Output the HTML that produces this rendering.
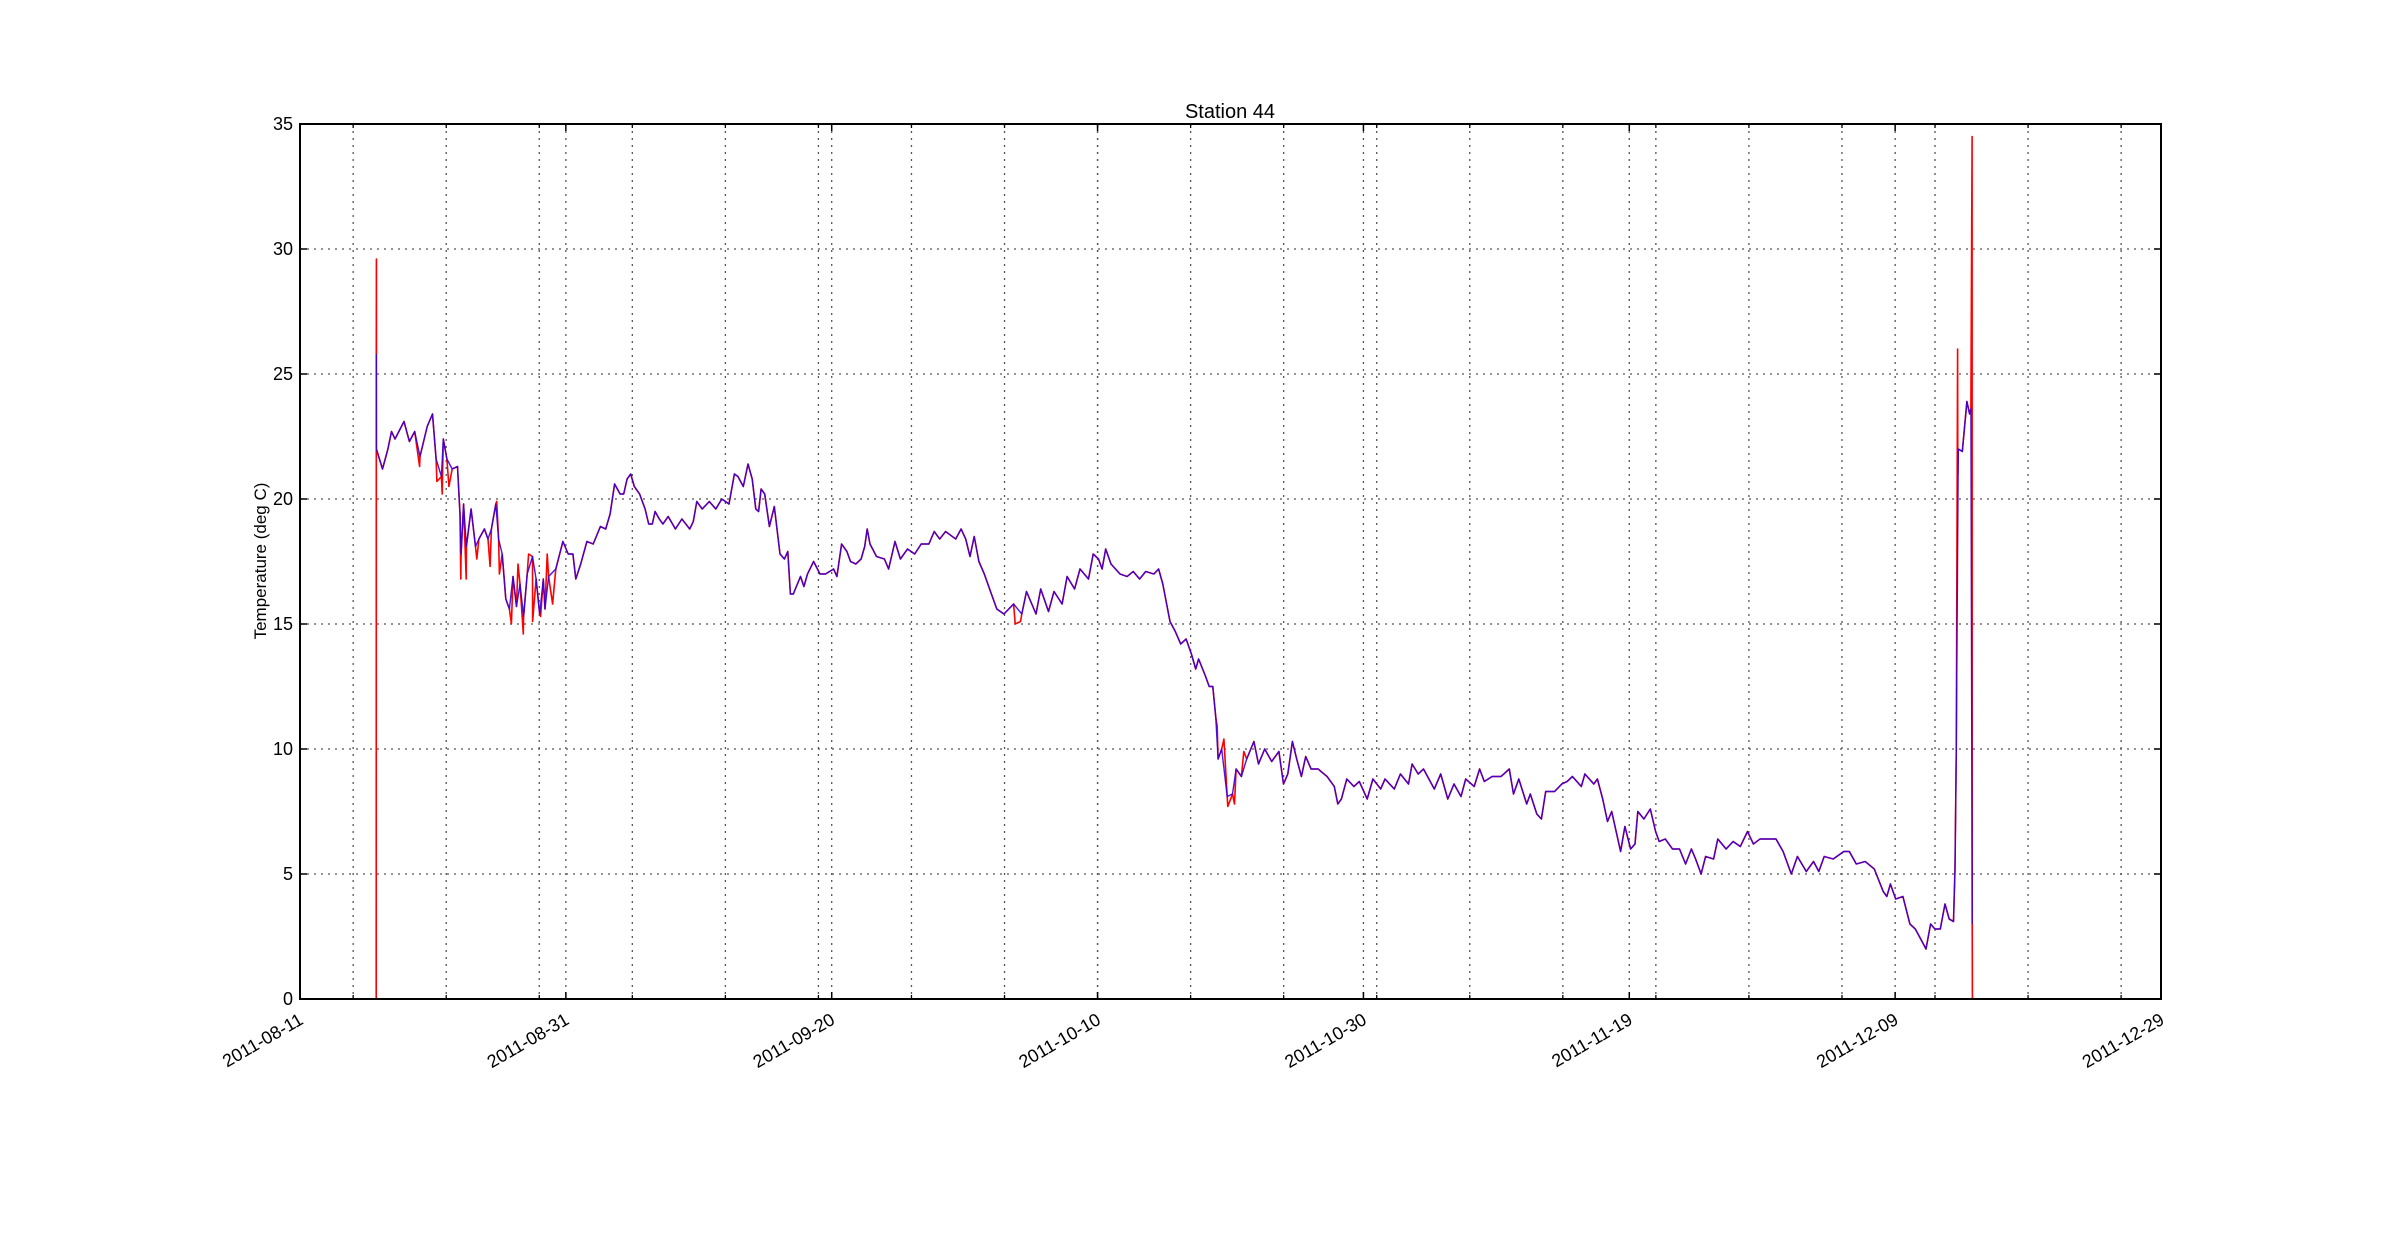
<!DOCTYPE html>
<html><head><meta charset="utf-8"><style>
html,body{margin:0;padding:0;background:#fff;}
svg{display:block;font-family:"Liberation Sans","DejaVu Sans",sans-serif;}
</style></head><body>
<svg id="chart" width="2400" height="1248" viewBox="0 0 2400 1248">
<rect x="0" y="0" width="2400" height="1248" fill="#fff"/>
<g id="grid"></g>
<g id="series"></g>
<rect x="300" y="124" width="1861" height="875" fill="none" stroke="#000" stroke-width="2"/>
<g id="ticks"></g>
<text x="1230" y="118" text-anchor="middle" font-size="20">Station 44</text>
<text transform="translate(266,561) rotate(-90)" text-anchor="middle" font-size="17">Temperature (deg C)</text>
</svg>
<script>
const xTickLabels = ["2011-08-11","2011-08-31","2011-09-20","2011-10-10","2011-10-30","2011-11-19","2011-12-09","2011-12-29"];
const xTickDays = [0,20,40,60,80,100,120,140];
const minorDays = [4,11,18,25,32,39,46,53,60,67,74,81,88,95,102,109,116,123,130,137];
const yTicks = [0,5,10,15,20,25,30,35];
const blueDays = [5.74,5.75,6.21,6.61,6.88,7.15,7.82,8.23,8.63,9.03,9.57,9.97,10.24,10.64,10.78,11.05,11.45,11.85,12.04,12.12,12.31,12.52,12.87,13.2,13.46,13.87,14.14,14.4,14.73,14.94,15.21,15.48,15.75,16.02,16.29,16.55,16.82,17.09,17.49,17.76,18.03,18.3,18.43,18.7,19.24,19.78,20.18,20.53,20.75,21.12,21.58,22.06,22.6,23.0,23.33,23.67,24.08,24.35,24.61,24.88,25.15,25.55,25.96,26.23,26.5,26.71,27.03,27.3,27.7,28.24,28.73,29.32,29.59,29.85,30.26,30.79,31.28,31.73,32.27,32.68,32.94,33.35,33.7,34.02,34.29,34.5,34.69,34.96,35.31,35.68,36.11,36.44,36.7,36.89,37.11,37.65,37.91,38.18,38.64,39.12,39.53,40.14,40.39,40.74,41.14,41.41,41.81,42.21,42.48,42.67,42.88,43.37,43.96,44.28,44.76,45.17,45.7,46.24,46.73,47.31,47.71,48.12,48.57,49.33,49.73,50.08,50.4,50.72,51.07,51.48,52.01,52.42,52.95,53.68,54.3,54.65,55.37,55.72,56.31,56.72,57.33,57.71,58.27,58.68,59.32,59.67,60.07,60.34,60.61,61.01,61.69,62.22,62.68,63.16,63.62,64.24,64.59,64.91,65.45,65.85,66.25,66.66,67.06,67.38,67.6,68.13,68.4,68.67,68.89,69.07,69.34,69.75,70.15,70.42,70.82,71.22,71.76,72.11,72.57,73.1,73.64,73.99,74.31,74.66,74.98,75.33,75.66,76.06,76.6,77.27,77.81,78.07,78.34,78.75,79.28,79.69,80.28,80.71,81.3,81.62,82.32,82.78,83.39,83.66,84.12,84.52,85.33,85.81,86.35,86.81,87.34,87.69,88.33,88.74,89.09,89.68,90.35,90.97,91.29,91.69,92.28,92.55,93.04,93.39,93.71,94.38,94.92,95.32,95.72,96.39,96.66,97.33,97.6,98.0,98.36,98.68,99.35,99.67,100.1,100.43,100.64,101.1,101.58,101.98,102.25,102.71,103.25,103.78,104.24,104.67,104.99,105.4,105.74,106.34,106.66,107.28,107.81,108.35,108.89,109.34,109.83,111.04,111.57,112.19,112.65,113.32,113.86,114.26,114.66,115.34,116.14,116.55,117.08,117.75,118.43,119.1,119.37,119.64,120.04,120.58,121.11,121.52,121.92,122.32,122.67,122.99,123.4,123.75,124.07,124.39,124.5,124.6,124.75,125.05,125.4,125.6,125.7,125.8];
const blueVals = [25.8,22.0,21.2,22.0,22.7,22.4,23.1,22.3,22.7,21.7,22.9,23.4,21.6,20.9,22.4,21.6,21.2,21.3,19.4,17.8,19.8,18.1,19.6,18.1,18.4,18.8,18.4,18.8,19.8,18.4,17.8,16.0,15.6,16.9,15.7,16.6,15.3,17.0,17.7,16.8,15.4,16.8,15.6,16.9,17.2,18.3,17.8,17.8,16.8,17.4,18.3,18.2,18.9,18.8,19.4,20.6,20.2,20.2,20.8,21.0,20.5,20.2,19.6,19.0,19.0,19.5,19.2,19.0,19.3,18.8,19.2,18.8,19.1,19.9,19.6,19.9,19.6,20.0,19.8,21.0,20.9,20.5,21.4,20.8,19.6,19.5,20.4,20.2,18.9,19.7,17.8,17.6,17.9,16.2,16.2,16.9,16.5,17.0,17.5,17.0,17.0,17.2,16.9,18.2,17.9,17.5,17.4,17.6,18.1,18.8,18.2,17.7,17.6,17.2,18.3,17.6,18.0,17.8,18.2,18.2,18.7,18.4,18.7,18.4,18.8,18.4,17.7,18.5,17.5,17.0,16.2,15.6,15.4,15.8,15.4,16.3,15.4,16.4,15.5,16.3,15.8,16.9,16.4,17.2,16.8,17.8,17.6,17.2,18.0,17.4,17.0,16.9,17.1,16.8,17.1,17.0,17.2,16.6,15.1,14.7,14.2,14.4,13.8,13.2,13.6,12.9,12.5,12.5,11.3,9.6,10.0,8.1,8.2,9.2,8.9,9.6,10.3,9.4,10.0,9.5,9.9,8.6,9.0,10.3,9.6,8.9,9.7,9.2,9.2,8.9,8.5,7.8,8.0,8.8,8.5,8.7,8.0,8.8,8.4,8.8,8.4,9.0,8.6,9.4,9.0,9.2,8.4,9.0,8.0,8.6,8.1,8.8,8.5,9.2,8.7,8.9,8.9,9.2,8.2,8.8,7.8,8.2,7.4,7.2,8.3,8.3,8.6,8.7,8.9,8.5,9.0,8.6,8.8,8.0,7.1,7.5,5.9,6.9,6.0,6.2,7.5,7.2,7.6,6.7,6.3,6.4,6.0,6.0,5.4,6.0,5.6,5.0,5.7,5.6,6.4,6.0,6.3,6.1,6.7,6.2,6.4,6.4,5.9,5.0,5.7,5.1,5.5,5.1,5.7,5.6,5.9,5.9,5.4,5.5,5.2,4.3,4.1,4.6,4.0,4.1,3.0,2.8,2.4,2.0,3.0,2.8,2.8,3.8,3.2,3.1,5.2,10.0,22.0,21.9,23.9,23.4,23.6,3.0];
const redExtraDays = [5.73,5.745,9.0,10.3,10.7,11.2,12.1,12.5,13.3,14.3,14.8,15.0,15.9,16.4,16.8,17.2,17.5,18.1,18.6,19.0,53.8,54.2,69.0,69.5,69.8,70.3,71.0,76.8,124.7,124.71,125.79,125.81];
const redExtraVals = [0,29.6,21.3,20.7,20.2,20.5,16.8,16.8,17.6,17.3,19.9,17.0,15.0,17.4,14.6,17.8,15.1,15.3,17.8,15.8,15.0,15.1,10.9,10.4,7.7,7.8,9.9,9.1,26.0,21.0,34.5,0];

const L=300,R=2161,T=124,B=999,D0=0,D1=140,V0=0,V1=35;
function xs(d){return L+(d-D0)/(D1-D0)*(R-L);}
function ys(v){return B-(v-V0)/(V1-V0)*(B-T);}
const NS="http://www.w3.org/2000/svg";
function mk(tag,attrs,parent){const e=document.createElementNS(NS,tag);for(const k in attrs)e.setAttribute(k,attrs[k]);parent.appendChild(e);return e;}
const grid=document.getElementById('grid'),ticks=document.getElementById('ticks'),series=document.getElementById('series');
const gs={stroke:"#555","stroke-width":1.3,"stroke-dasharray":"2,5"};
minorDays.forEach(d=>{const x=xs(d);
  const g=mk('line',Object.assign({x1:x,x2:x,y1:T,y2:B},gs),grid);
  
  
  const t1=mk('line',{x1:x,x2:x,y1:B,y2:B-4,stroke:"#000","stroke-width":1.3},ticks);
  
  
  const t2=mk('line',{x1:x,x2:x,y1:T,y2:T+4,stroke:"#000","stroke-width":1.3},ticks);
  
  
});
xTickDays.forEach((d,i)=>{const x=xs(d);
  const g=mk('line',Object.assign({x1:x,x2:x,y1:T,y2:B},gs),grid);
  
  
  const t1=mk('line',{x1:x,x2:x,y1:B,y2:B-7,stroke:"#000","stroke-width":1.5},ticks);
  
  
  const t2=mk('line',{x1:x,x2:x,y1:T,y2:T+7,stroke:"#000","stroke-width":1.5},ticks);
  
  
  const lb=mk('text',{transform:`translate(${x-2},${B+13}) rotate(-30)`,"text-anchor":"end","dominant-baseline":"hanging","font-size":18},ticks);
  lb.textContent=xTickLabels[i];
  
  
});
yTicks.forEach(v=>{const y=ys(v);
  const g=mk('line',Object.assign({x1:L,x2:R,y1:y,y2:y},gs),grid);
  
  
  const t1=mk('line',{x1:L,x2:L+7,y1:y,y2:y,stroke:"#000","stroke-width":1.5},ticks);
  
  
  const t2=mk('line',{x1:R,x2:R-7,y1:y,y2:y,stroke:"#000","stroke-width":1.5},ticks);
  
  
  const lb=mk('text',{x:L-7,y:y+6,"text-anchor":"end","font-size":18},ticks);
  lb.textContent=String(v);
  
  
});
const redPts=[];
blueDays.forEach((d,i)=>redPts.push([d,blueVals[i]]));
redExtraDays.forEach((d,i)=>redPts.push([d,redExtraVals[i]]));
redPts.sort((a,b)=>a[0]-b[0]);
const redLine=mk('polyline',{points:redPts.map(p=>xs(p[0]).toFixed(1)+","+ys(p[1]).toFixed(1)).join(" "),fill:"none",stroke:"#ff0000","stroke-width":1.6,"stroke-linejoin":"round"},series);


const blueLine=mk('polyline',{points:blueDays.map((d,i)=>xs(d).toFixed(1)+","+ys(blueVals[i]).toFixed(1)).join(" "),fill:"none",stroke:"#3300dd","stroke-width":1.4,"stroke-linejoin":"round","stroke-opacity":0.9},series);


</script>
</body></html>
